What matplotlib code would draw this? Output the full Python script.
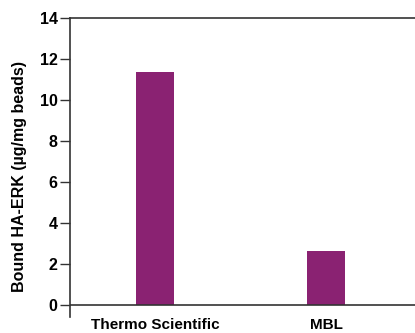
import matplotlib
matplotlib.use("Agg")
import matplotlib.pyplot as plt

# Data
categories = ["Thermo Scientific", "MBL"]
bound_ha_erk = [11.35, 2.62]
y_ticks = [0, 2, 4, 6, 8, 10, 12, 14]

plt.rcParams["font.family"] = ["Liberation Sans", "DejaVu Sans"]
plt.rcParams["font.weight"] = "bold"

bar_color = "#8a2272"
line_color = "#333333"

fig = plt.figure(figsize=(4.15, 3.33), dpi=100)
ax = fig.add_axes([0.1687, 0.048, 0.8313, 0.898])

x = list(range(len(categories)))
ax.bar(x, bound_ha_erk, width=0.22, color=bar_color, zorder=2)

ax.set_ylim(-0.6, 14)
ax.set_xlim(-0.497, 1.52)
ax.set_yticks(y_ticks)
ax.set_yticklabels([str(t) for t in y_ticks], fontsize=11.5, fontweight="bold")
ax.tick_params(axis="y", direction="out", length=7, width=1, color=line_color, pad=2)

ax.set_xticks(x)
ax.set_xticklabels(categories, fontsize=11, fontweight="bold")
ax.tick_params(axis="x", length=0, pad=0.5)

ax.spines["right"].set_visible(False)
ax.spines["bottom"].set_visible(False)
for s in ("left", "top"):
    ax.spines[s].set_color(line_color)
    ax.spines[s].set_linewidth(1.2)
ax.axhline(0, color=line_color, linewidth=1.2, zorder=3)

ax.set_ylabel("Bound HA-ERK (µg/mg beads)", fontsize=11.5, fontweight="bold")
ax.yaxis.set_label_coords(-0.125, 0.47)

fig.savefig("out.png", dpi=100)
